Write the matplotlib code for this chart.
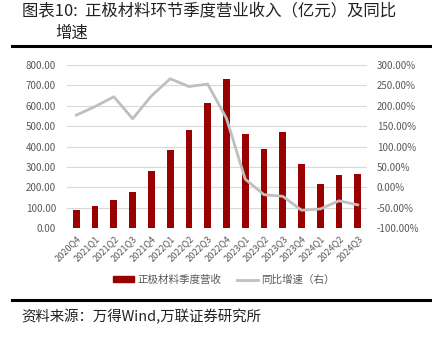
import matplotlib
matplotlib.use("Agg")
import matplotlib.pyplot as plt
from matplotlib.lines import Line2D

plt.rcParams['font.family'] = ['Noto Sans CJK SC', 'DejaVu Sans']

quarters = ["2020Q4", "2021Q1", "2021Q2", "2021Q3", "2021Q4", "2022Q1", "2022Q2",
            "2022Q3", "2022Q4", "2023Q1", "2023Q2", "2023Q3", "2023Q4", "2024Q1",
            "2024Q2", "2024Q3"]
revenue = [88, 108, 140, 176, 281, 385, 480, 615, 730, 462, 387, 470, 315, 215, 260, 264]
yoy = [177, 198, 222, 168, 224, 266, 247, 253, 169, 20, -18, -22, -56, -53, -33, -43]

left_ticks = list(range(0, 801, 100))
right_ticks = list(range(-100, 301, 50))

bar_color = "#990000"
line_color = "#BFBFBF"
tick_color = "#595959"
grid_color = "#D9D9D9"

fig = plt.figure(figsize=(4.32, 3.38), dpi=100)
ax = fig.add_axes([0.155, 0.325, 0.695, 0.483])
x = list(range(len(quarters)))

ax.set_axisbelow(True)
ax.grid(axis='y', color=grid_color, linewidth=0.8)
ax.bar(x, revenue, width=0.36, color=bar_color, zorder=2)
ax.set_ylim(0, 800)
ax.set_yticks(left_ticks)
ax.set_yticklabels([f"{v:.2f}" for v in left_ticks], fontsize=7, color=tick_color)
ax.set_xlim(-0.5, len(quarters) - 0.5)
ax.set_xticks(x)
ax.set_xticklabels(quarters, rotation=45, ha='right', rotation_mode='anchor',
                   fontsize=6.6, color=tick_color)
ax.tick_params(axis='y', length=0, pad=8)
ax.tick_params(axis='x', length=0, pad=4)
for s in ax.spines.values():
    s.set_visible(False)

ax2 = ax.twinx()
ax2.plot(x, yoy, color=line_color, linewidth=2, zorder=3)
ax2.set_ylim(-100, 300)
ax2.set_yticks(right_ticks)
ax2.set_yticklabels([f"{v:.2f}%" for v in right_ticks], fontsize=7, color=tick_color)
ax2.tick_params(length=0, pad=7)
for s in ax2.spines.values():
    s.set_visible(False)

# legend below the plot
handles = [plt.Rectangle((0, 0), 1, 1, color=bar_color),
           Line2D([0], [0], color=line_color, linewidth=2)]
fig.legend(handles, ["正极材料季度营收", "同比增速（右）"], loc='center',
           bbox_to_anchor=(0.518, 0.172), ncol=2, frameon=False, fontsize=7.6,
           handlelength=2.0, handleheight=0.5, handletextpad=0.3,
           columnspacing=1.5, labelcolor=tick_color)

# title block
fig.text(0.052, 0.967, "图表10:  正极材料环节季度营业收入（亿元）及同比",
         fontsize=11.8, va='center', ha='left', color='#222222')
fig.text(0.127, 0.902, "增速", fontsize=11.8, va='center', ha='left', color='#222222')
fig.add_artist(Line2D([0.028, 1.0], [0.864, 0.864], color='black', linewidth=2.2,
                      transform=fig.transFigure))
fig.add_artist(Line2D([0.028, 1.0], [0.111, 0.111], color='black', linewidth=2.2,
                      transform=fig.transFigure))
fig.text(0.05, 0.063, "资料来源：万得Wind,万联证券研究所", fontsize=10.4,
         style='italic', va='center', ha='left', color='#222222')

fig.savefig("out.png", dpi=100)
